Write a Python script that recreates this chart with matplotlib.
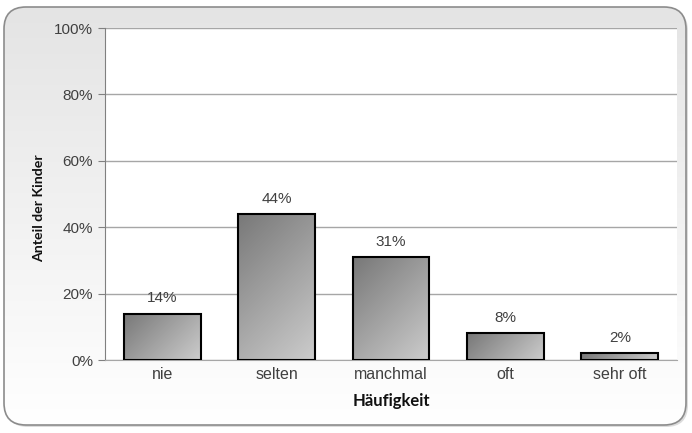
import numpy as np
import matplotlib
matplotlib.use("Agg")
import matplotlib.pyplot as plt
from matplotlib.patches import FancyBboxPatch
from matplotlib.colors import LinearSegmentedColormap

plt.rcParams['font.family'] = ['Liberation Sans', 'DejaVu Sans']

categories = ['nie', 'selten', 'manchmal', 'oft', 'sehr oft']
values = [14, 44, 31, 8, 2]
labels = ['14%', '44%', '31%', '8%', '2%']

W, H = 692, 433
fig = plt.figure(figsize=(W / 100, H / 100), dpi=100)
fig.patch.set_facecolor('white')

# rounded frame with a vertical grey-to-white gradient
bg = fig.add_axes([0, 0, 1, 1], zorder=0)
bg.axis('off')
box = dict(boxstyle='round,pad=0,rounding_size=22')
shadow = FancyBboxPatch((6, 9), 682, 418, facecolor='#dcdcdc', edgecolor='none',
                        zorder=0, **box)
bg.add_patch(shadow)
grad = np.linspace(0, 1, 256).reshape(-1, 1)
bgcmap = LinearSegmentedColormap.from_list('bg', ['#e4e4e4', '#ffffff'])
im = bg.imshow(grad, cmap=bgcmap, extent=(4, 686, 425, 7), aspect='auto',
               origin='upper', zorder=1)
clip = FancyBboxPatch((4, 7), 682, 418, facecolor='none', edgecolor='none', **box)
bg.add_patch(clip)
im.set_clip_path(clip)
frame = FancyBboxPatch((4, 7), 682, 418, facecolor='none', edgecolor='#8c8c8c',
                       linewidth=1.2, zorder=2, **box)
bg.add_patch(frame)
bg.set_xlim(0, W)
bg.set_ylim(H, 0)

ax_w, ax_h = 572, 332
ax = fig.add_axes([105 / W, (H - 360) / H, ax_w / W, ax_h / H], zorder=1)
ax.set_facecolor('white')
x = np.arange(len(categories))
ax.set_yticks(range(0, 101, 20))
ax.set_yticklabels([f'{v}%' for v in range(0, 101, 20)])
ax.yaxis.grid(True, color='#a6a6a6', linewidth=1)
ax.set_axisbelow(True)
for s in ['top', 'right']:
    ax.spines[s].set_visible(False)
ax.spines['left'].set_color('#808080')
ax.spines['bottom'].set_color('#a6a6a6')
ax.tick_params(axis='y', colors='#404040', labelsize=11, length=5, color='#808080')
ax.tick_params(axis='x', colors='#404040', labelsize=11.5, length=0, pad=5)
ax.set_xticks(x)
ax.set_xticklabels(categories)

# bars: outline from ax.bar, fill is a 45-degree grey gradient clipped to each bar
barcmap = LinearSegmentedColormap.from_list('bar', ['#787878', '#cccccc'])
width = 0.67
bars = ax.bar(x, values, width=width, facecolor='none', edgecolor='black',
              linewidth=1.5, zorder=3)
for b in bars:
    x0, y0 = b.get_x(), b.get_y()
    w, h = b.get_width(), b.get_height()
    nx = max(int(w / len(categories) * ax_w), 2)
    ny = max(int(h / 100 * ax_h), 2)
    gx, gy = np.meshgrid(np.arange(nx), np.arange(ny))
    diag = (gx + gy) / (nx + ny - 2)
    gi = ax.imshow(diag, cmap=barcmap, extent=(x0, x0 + w, y0, y0 + h),
                   aspect='auto', zorder=2, origin='upper')
    gi.set_clip_path(b)
ax.set_xlim(-0.5, len(categories) - 0.5)
ax.set_ylim(0, 100)

for xi, v, t in zip(x, values, labels):
    ax.annotate(t, (xi, v), xytext=(0, 6), textcoords='offset points',
                ha='center', va='bottom', fontsize=11, color='#404040')

ax.set_xlabel('Häufigkeit', fontsize=12, fontweight='bold', labelpad=8,
              family='Lato', color='#111111')
ax.set_ylabel('Anteil der Kinder', fontsize=10.2, fontweight='bold',
              family='Lato', color='#111111')
ax.yaxis.set_label_coords(-0.104, 0.458)

fig.savefig('out.png', dpi=100)
